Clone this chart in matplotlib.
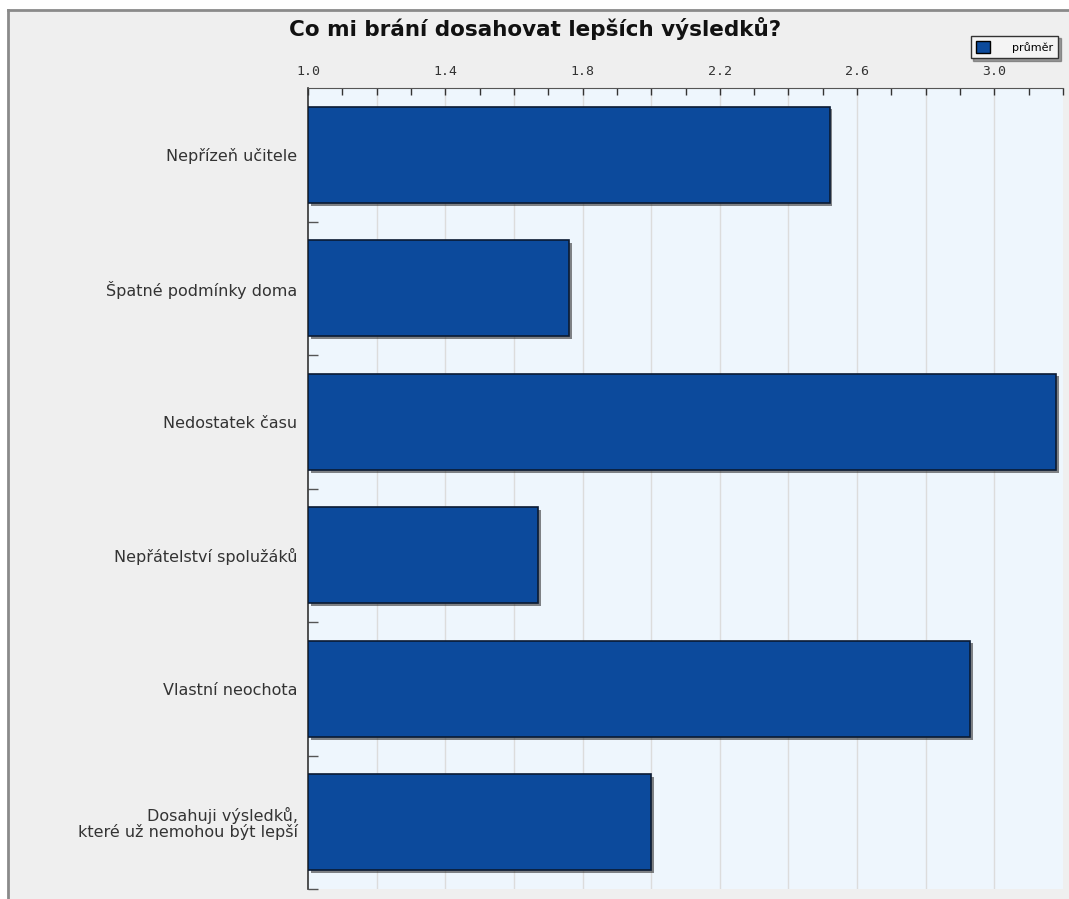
import matplotlib
matplotlib.use("Agg")
import matplotlib.pyplot as plt
import matplotlib.patheffects as pe
from matplotlib.patches import Rectangle, Patch
from matplotlib.lines import Line2D
import numpy as np

TITLE = "Co mi brání dosahovat lepších výsledků?"
categories = [
    "Nepřízeň učitele",
    "Špatné podmínky doma",
    "Nedostatek času",
    "Nepřátelství spolužáků",
    "Vlastní neochota",
    "Dosahuji výsledků,\nkteré už nemohou být lepší",
]
prumer = [2.52, 1.76, 3.18, 1.67, 2.93, 2.00]
x_labels = ["1.0", "1.4", "1.8", "2.2", "2.6", "3.0"]

BAR = "#0c4a9c"
BG = "#efefef"
PLOT_BG = "#eef6fd"

W, H = 1069, 899
fig = plt.figure(figsize=(W / 100, H / 100), dpi=100, facecolor="white")

# outer frame: grey panel with dark top/left border
fig.patches.append(Rectangle((8 / W, 0), 1, 1 - 10 / H, transform=fig.transFigure,
                             facecolor=BG, edgecolor="none", zorder=-10))
fig.lines.append(Line2D([8 / W, 1], [1 - 10 / H, 1 - 10 / H], transform=fig.transFigure,
                        color="#8a8a8a", lw=2, zorder=-5))
fig.lines.append(Line2D([8 / W, 8 / W], [0, 1 - 10 / H], transform=fig.transFigure,
                        color="#8a8a8a", lw=2, zorder=-5))

ax = fig.add_axes([308 / W, 10 / H, (1063 - 308) / W, (889 - 88) / H])
ax.set_zorder(2)
ax.set_facecolor(PLOT_BG)

y = np.arange(len(categories))
ax.barh(y, [v - 1.0 for v in prumer], left=1.0, height=0.72, color=BAR,
        edgecolor="#0a1a33", linewidth=1.2, zorder=3,
        path_effects=[pe.SimplePatchShadow(offset=(2, -2), shadow_rgbFace="#222222", alpha=0.55),
                      pe.Normal()])

ax.set_xlim(1.0, 3.2)
ax.set_ylim(len(categories) - 0.5, -0.5)

ax.xaxis.tick_top()
ax.set_xticks(np.arange(1.0, 3.21, 0.4))
ax.set_xticklabels(x_labels, fontsize=9.5, family="DejaVu Sans Mono", color="#333333")
ax.set_xticks(np.arange(1.0, 3.21, 0.1), minor=True)
ax.tick_params(axis="x", which="both", direction="in", length=5, width=1, color="#333333", pad=7)

for gx in np.arange(1.2, 3.19, 0.2):
    ax.axvline(gx, color="#dcdcdc", lw=1, zorder=1)

ax.set_yticks(y)
ax.set_yticklabels(categories, fontsize=11.5, color="#333333", linespacing=0.95)
ax.tick_params(axis="y", which="major", length=0, pad=7.5)
ax.set_yticks(np.arange(0.5, len(categories), 1.0), minor=True)
ax.tick_params(axis="y", which="minor", direction="in", length=7, width=1, color="#555555")

ax.spines["top"].set_color("#555555")
ax.spines["left"].set_color("#333333")
ax.spines["left"].set_linewidth(1.2)
ax.spines["right"].set_visible(False)
ax.spines["bottom"].set_visible(False)

fig.text(535 / W, 1 - 28 / H, TITLE, ha="center", va="center", fontsize=15.5,
         fontweight="bold", color="#111111")

leg = fig.legend(handles=[Patch(facecolor=BAR, edgecolor="black", label="průměr")],
                 loc="upper right", bbox_to_anchor=(1064 / W, 1 - 30 / H),
                 fontsize=8, frameon=True, fancybox=False, shadow=True,
                 handlelength=1.2, handleheight=1.2, borderpad=0.5, handletextpad=2.0)
leg.get_frame().set_edgecolor("#333333")
leg.get_frame().set_facecolor("#f4f4f4")
leg.set_zorder(5)

fig.savefig("out.png", dpi=100, facecolor=fig.get_facecolor())
